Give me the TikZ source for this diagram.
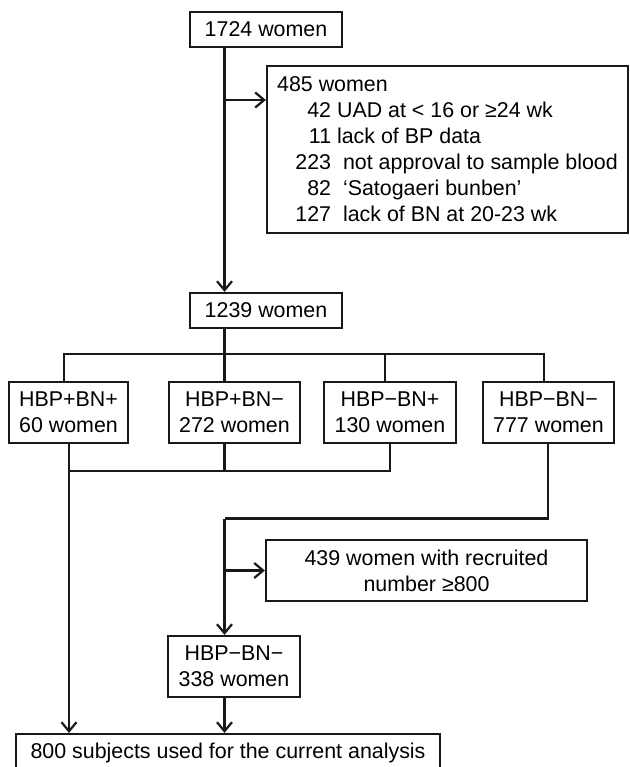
\documentclass[tikz,border=0pt]{standalone}
\usepackage{fontspec}
\setmainfont{Liberation Sans}
\usetikzlibrary{arrows.meta}
\begin{document}
\begin{tikzpicture}[x=1pt,y=-1pt,
  every node/.style={font=\fontsize{21.4pt}{26pt}\selectfont},
  box/.style={draw=black!90,line width=2.2pt,inner sep=0pt,align=center},
  conn/.style={line width=2.2pt,draw=black!90},
  arr/.style={conn,-{Straight Barb[length=9pt,width=15pt,line width=2.2pt]}}]
\useasboundingbox (0,0) rectangle (629,767);
% nodes
\node[box,minimum width=152,minimum height=35] (n1724) at (266,29.5) {1724 women};
\node[box,minimum width=361,minimum height=167,align=left] (n485) at (447.5,149.5)
 {485 women\\
  \hspace*{18pt}\makebox[36pt][r]{42} UAD at < 16 or ≥24 wk\\
  \hspace*{18pt}\makebox[36pt][r]{11} lack of BP data\\
  \hspace*{18pt}\makebox[36pt][r]{223}\ \ not approval to sample blood\\
  \hspace*{18pt}\makebox[36pt][r]{82}\ \ ‘Satogaeri bunben’\\
  \hspace*{18pt}\makebox[36pt][r]{127}\ \ lack of BN at 20-23 wk};
\node[box,minimum width=152,minimum height=35] (n1239) at (266,310.5) {1239 women};
\node[box,minimum width=119,minimum height=61] (b1) at (68.5,412.5) {HBP+BN+\\60 women};
\node[box,minimum width=131,minimum height=61] (b2) at (234.5,412.5) {HBP+BN−\\272 women};
\node[box,minimum width=132,minimum height=61] (b3) at (390,412.5) {HBP−BN+\\130 women};
\node[box,minimum width=131,minimum height=61] (b4) at (548.5,412.5) {HBP−BN−\\777 women};
\node[box,minimum width=321,minimum height=61] (n439) at (426.5,570.5) {439 women with recruited\\number ≥800};
\node[box,minimum width=132,minimum height=61] (n338) at (234,666.5) {HBP−BN−\\338 women};
\node[box,minimum width=424,minimum height=38] (n800) at (228,753) {800 subjects used for the current analysis};
% helper coordinates
\coordinate (xa) at (224.5,0);
\coordinate (ya) at (0,100);
\coordinate (ybr) at (0,354);
\coordinate (ymg) at (0,471);
\coordinate (yr) at (0,518.5);
\coordinate (t1) at (64,0);
\coordinate (t3) at (385,0);
\coordinate (t4) at (544,0);
\coordinate (u1) at (69,0);
\coordinate (u3) at (390,0);
\coordinate (u4) at (548,0);
% connectors
\draw[arr] (n1724.south -| xa) -- (n1239.north -| xa);
\draw[arr] (xa |- ya) -- (n485.west |- ya);
\draw[conn] (n1239.south -| xa) -- (xa |- ybr);
\draw[conn] (b1.north -| t1) -- (t1 |- ybr) -- (t4 |- ybr) -- (b4.north -| t4);
\draw[conn] (xa |- ybr) -- (b2.north -| xa);
\draw[conn] (t3 |- ybr) -- (b3.north -| t3);
\draw[conn] (b2.south -| xa) -- (xa |- ymg);
\draw[conn] (b3.south -| u3) -- (u3 |- ymg) -- (u1 |- ymg);
\draw[arr] (b1.south -| u1) -- (n800.north -| u1);
\draw[conn] (b4.south -| u4) -- (u4 |- yr) -- (xa |- yr);
\draw[arr] (xa |- yr) -- (n338.north -| xa);
\draw[arr] (xa |- n439.west) -- (n439.west);
\draw[arr] (n338.south -| xa) -- (n800.north -| xa);
\end{tikzpicture}
\end{document}
